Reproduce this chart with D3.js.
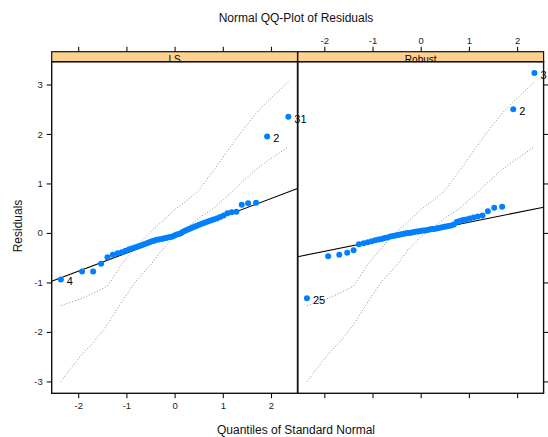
<!DOCTYPE html>
<html>
<head>
<meta charset="utf-8">
<script src="https://cdn.jsdelivr.net/npm/d3@7"></script>
<style>
  html, body { margin: 0; padding: 0; background: #fff; }
  svg { display: block; font-family: "Liberation Sans", Arial, Helvetica, sans-serif; }
</style>
</head>
<body>
<svg id="chart" width="548" height="437"></svg>
<script>
// ---------------- data ----------------
const panelNames = ["LS", "Robust"];
const xTicks = [-2, -1, 0, 1, 2];
const yTicks = [-3, -2, -1, 0, 1, 2, 3];

// theoretical standard normal quantiles (x positions of the points)
const quantiles = [
  -2.36, -1.92, -1.69, -1.525, -1.393, -1.282, -1.184, -1.097, -1.017, -0.943,
  -0.874, -0.809, -0.748, -0.689, -0.632, -0.577, -0.524, -0.473, -0.423, -0.373,
  -0.325, -0.277, -0.230, -0.183, -0.137, -0.091, -0.046, 0.0, 0.046, 0.091,
  0.137, 0.183, 0.230, 0.277, 0.325, 0.373, 0.423, 0.473, 0.524, 0.577,
  0.632, 0.689, 0.748, 0.809, 0.874, 0.943, 1.017, 1.097, 1.184, 1.282,
  1.393, 1.525, 1.69, 1.92, 2.36
];

const lsResiduals = [
  -0.94, -0.78, -0.78, -0.62, -0.49, -0.44, -0.41, -0.39, -0.36, -0.33,
  -0.31, -0.29, -0.27, -0.25, -0.23, -0.21, -0.19, -0.17, -0.16, -0.14,
  -0.13, -0.12, -0.11, -0.10, -0.09, -0.08, -0.07, -0.05, -0.03, -0.02,
  0.00, 0.03, 0.05, 0.07, 0.09, 0.11, 0.13, 0.15, 0.17, 0.19,
  0.21, 0.23, 0.25, 0.27, 0.29, 0.32, 0.35, 0.40, 0.42, 0.43,
  0.57, 0.60, 0.61, 1.95, 2.35
];

const robustResiduals = [
  -1.32, -0.47, -0.44, -0.40, -0.35, -0.23, -0.21, -0.19, -0.17, -0.15,
  -0.13, -0.12, -0.10, -0.09, -0.07, -0.06, -0.05, -0.04, -0.03, -0.02,
  -0.01, 0.00, 0.00, 0.01, 0.02, 0.03, 0.03, 0.04, 0.05, 0.05,
  0.06, 0.07, 0.08, 0.08, 0.09, 0.10, 0.11, 0.12, 0.13, 0.14,
  0.15, 0.17, 0.22, 0.24, 0.26, 0.27, 0.29, 0.31, 0.33, 0.35,
  0.44, 0.51, 0.53, 2.50, 3.23
];

// simulation envelope (dotted)
const envQuantiles = [-2.36, -1.92, -1.69, -1.39, -1.10, -0.80, -0.50, -0.25, 0.0, 0.25, 0.50, 0.80, 1.10, 1.39, 1.69, 1.92, 2.36];
const envUpper = [-1.47, -1.32, -1.22, -1.07, -0.64, -0.28, 0.02, 0.24, 0.47, 0.65, 0.86, 1.25, 1.66, 2.05, 2.42, 2.65, 3.05];
const envLower = [-3.00, -2.45, -2.22, -1.85, -1.40, -0.97, -0.65, -0.33, -0.08, 0.10, 0.30, 0.49, 0.75, 1.02, 1.28, 1.45, 1.74];

// reference lines
const lineIntercepts = [-0.04, 0.02];
const lineSlopes = [0.367, 0.196];

// labelled points (index into sorted arrays)
const lsLabelIndex = [0, 53, 54];
const lsLabelText = ["4", "2", "31"];
const robustLabelIndex = [0, 53, 54];
const robustLabelText = ["25", "2", "3"];

// ---------------- layout ----------------
const svg = d3.select("#chart");
const panelTop = 61.7, panelBottom = 393.3;
const stripTop = 51.7;
const panelLefts = [51.7, 297.8];
const panelWidth = 245.8;

const y = d3.scaleLinear().domain([-3.24, 3.46]).range([panelBottom, panelTop]);
const fmt = d => String(d);

const panelData = [
  { res: lsResiduals, li: lsLabelIndex, lt: lsLabelText },
  { res: robustResiduals, li: robustLabelIndex, lt: robustLabelText }
];

const defs = svg.append("defs");

panelNames.forEach((name, p) => {
  const x0 = panelLefts[p];
  const x = d3.scaleLinear().domain([-2.55, 2.55]).range([x0, x0 + panelWidth]);
  const g = svg.append("g");

  defs.append("clipPath").attr("id", "clip" + p)
    .append("rect").attr("x", x0).attr("y", panelTop).attr("width", panelWidth).attr("height", panelBottom - panelTop);
  defs.append("clipPath").attr("id", "sclip" + p)
    .append("rect").attr("x", x0).attr("y", stripTop).attr("width", panelWidth).attr("height", panelTop - stripTop);

  // strip
  g.append("rect").attr("x", x0).attr("y", stripTop).attr("width", panelWidth).attr("height", panelTop - stripTop)
    .attr("fill", "#FFD08E").attr("stroke", "none");
  g.append("text").attr("clip-path", "url(#sclip" + p + ")")
    .attr("x", x0 + panelWidth / 2).attr("y", 62.6).attr("text-anchor", "middle")
    .attr("font-size", "10px").attr("fill", "#000").text(name);

  const inner = g.append("g").attr("clip-path", "url(#clip" + p + ")");
  const d = panelData[p];

  // envelope
  const envLine = d3.line().x(v => x(v[0])).y(v => y(v[1]));
  [envUpper, envLower].forEach(arr => {
    inner.append("path")
      .datum(envQuantiles.map((q, i) => [q, arr[i]]))
      .attr("d", envLine).attr("fill", "none")
      .attr("stroke", "#8c8c8c").attr("stroke-width", 1)
      .attr("stroke-dasharray", "1,2");
  });

  // reference line
  const dom = x.domain();
  inner.append("line")
    .attr("x1", x(dom[0])).attr("y1", y(lineIntercepts[p] + lineSlopes[p] * dom[0]))
    .attr("x2", x(dom[1])).attr("y2", y(lineIntercepts[p] + lineSlopes[p] * dom[1]))
    .attr("stroke", "#000").attr("stroke-width", 1.1);

  // points
  inner.selectAll("circle").data(quantiles.map((q, i) => [q, d.res[i]])).join("circle")
    .attr("cx", v => x(v[0])).attr("cy", v => y(v[1])).attr("r", 3)
    .attr("fill", "#0080FF");

  // labels
  g.selectAll("text.lab").data(d.li).join("text").attr("class", "lab")
    .attr("x", i => x(quantiles[i]) + 6).attr("y", i => y(d.res[i]) + 6)
    .attr("font-size", "11px").attr("fill", "#000")
    .text((i, k) => d.lt[k]);

  // frames
  g.append("rect").attr("x", x0).attr("y", stripTop).attr("width", panelWidth).attr("height", panelTop - stripTop)
    .attr("fill", "none").attr("stroke", "#111").attr("stroke-width", 1.2);
  g.append("rect").attr("x", x0).attr("y", panelTop).attr("width", panelWidth).attr("height", panelBottom - panelTop)
    .attr("fill", "none").attr("stroke", "#111").attr("stroke-width", 1.4);

  // axes
  const bottom = d3.axisBottom(x).tickValues(xTicks).tickSize(5).tickSizeOuter(0).tickPadding(4)
    .tickFormat(p === 0 ? fmt : () => "");
  const top = d3.axisTop(x).tickValues(xTicks).tickSize(5).tickSizeOuter(0).tickPadding(3)
    .tickFormat(p === 1 ? fmt : () => "");
  const ga = svg.append("g").attr("transform", `translate(0,${panelBottom})`).call(bottom);
  const gt = svg.append("g").attr("transform", `translate(0,${stripTop})`).call(top);
  [ga, gt].forEach(s => {
    s.select(".domain").remove();
    s.selectAll("line").attr("stroke", "#111").attr("stroke-width", 1.1);
    s.selectAll("text").attr("font-size", "9.5px").attr("fill", "#222")
      .attr("font-family", "Liberation Sans, Arial, sans-serif");
  });
  if (p === 0) {
    const left = d3.axisLeft(y).tickValues(yTicks).tickSize(5).tickSizeOuter(0).tickPadding(4).tickFormat(fmt);
    const gl = svg.append("g").attr("transform", `translate(${x0},0)`).call(left);
    gl.select(".domain").remove();
    gl.selectAll("line").attr("stroke", "#111").attr("stroke-width", 1.1);
    gl.selectAll("text").attr("font-size", "9.5px").attr("fill", "#222").attr("font-family", "Liberation Sans, Arial, sans-serif");
  } else {
    const right = d3.axisRight(y).tickValues(yTicks).tickSize(5).tickSizeOuter(0).tickFormat(() => "");
    const gr = svg.append("g").attr("transform", `translate(${x0 + panelWidth},0)`).call(right);
    gr.select(".domain").remove();
    gr.selectAll("line").attr("stroke", "#111").attr("stroke-width", 1.1);
  }
});

// titles
svg.append("text").attr("x", 296).attr("y", 22).attr("text-anchor", "middle")
  .attr("font-size", "12px").attr("fill", "#111").text("Normal QQ-Plot of Residuals");
svg.append("text").attr("x", 296).attr("y", 433.5).attr("text-anchor", "middle")
  .attr("font-size", "12px").attr("fill", "#111").text("Quantiles of Standard Normal");
svg.append("text").attr("transform", "translate(22,226) rotate(-90)").attr("text-anchor", "middle")
  .attr("font-size", "12px").attr("fill", "#111").text("Residuals");
</script>
</body>
</html>
